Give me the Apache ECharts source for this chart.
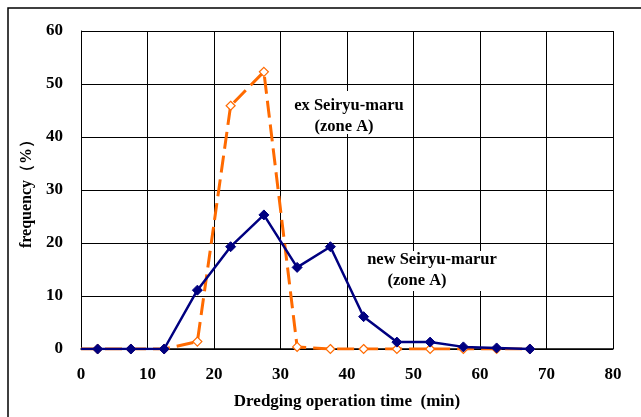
<!DOCTYPE html>
<html><head><meta charset="utf-8">
<script src="https://cdn.jsdelivr.net/npm/echarts@6/dist/echarts.min.js"></script>
<style>html,body{margin:0;padding:0;background:#fff}#c{width:641px;height:417px}</style>
</head><body><div id="c"></div>
<script>
const xTimes = [0, 2.5, 7.5, 12.5, 17.5, 22.5, 27.5, 32.5, 37.5, 42.5, 47.5, 52.5, 57.5, 62.5, 67.5];
const newSeiryu = [0, 0, 0, 0, 11.1, 19.3, 25.3, 15.4, 19.3, 6.1, 1.3, 1.3, 0.4, 0.2, 0];
const exSeiryu = [0, 0, 0, 0, 1.4, 45.9, 52.3, 0.4, 0, 0, 0, 0, 0, 0, 0];
const xTitle = 'Dredging operation time  (min)';
const yTitle = 'frequency（%）';

const font = '"Liberation Serif", "Times New Roman", serif';
function pairs(vals) {
  return xTimes.map((x, i) => i === 0 ? {value: [x, vals[i]], symbol: 'none'} : [x, vals[i]]);
}
const chart = echarts.init(document.getElementById('c'));
chart.setOption({
  animation: false,
  backgroundColor: '#fff',
  grid: {left: 81, right: 28, top: 31, bottom: 68},
  xAxis: {
    type: 'value', min: 0, max: 80, interval: 10,
    axisLine: {lineStyle: {color: '#000', width: 1.5}},
    axisTick: {show: false},
    splitLine: {lineStyle: {color: '#000', width: 1}},
    axisLabel: {color: '#000', fontFamily: font, fontWeight: 'bold', fontSize: 17, margin: 17},
    name: xTitle, nameLocation: 'middle', nameGap: 44,
    nameTextStyle: {color: '#000', fontFamily: font, fontWeight: 'bold', fontSize: 17}
  },
  yAxis: {
    type: 'value', min: 0, max: 60, interval: 10,
    axisLine: {show: true, lineStyle: {color: '#000', width: 1}},
    axisTick: {show: false},
    splitLine: {lineStyle: {color: '#000', width: 1}},
    axisLabel: {color: '#000', fontFamily: font, fontWeight: 'bold', fontSize: 17, margin: 18},
    name: yTitle, nameLocation: 'middle', nameGap: 42,
    nameTextStyle: {color: '#000', fontFamily: font, fontWeight: 'bold', fontSize: 16}
  },
  series: [
    {
      type: 'line', data: pairs(exSeiryu), z: 2,
      lineStyle: {color: '#FF6A00', width: 3, type: [17, 7]},
      symbol: 'diamond', symbolSize: 9,
      itemStyle: {color: '#fff', borderColor: '#FF6A00', borderWidth: 1.2}
    },
    {
      type: 'line', data: pairs(newSeiryu), z: 3,
      lineStyle: {color: '#000080', width: 2.5},
      symbol: 'diamond', symbolSize: 10,
      itemStyle: {color: '#000080', borderColor: '#000080'}
    }
  ],
  graphic: [
    {type: 'rect', shape: {x: 8, y: 8, width: 700, height: 500}, style: {fill: 'none', stroke: '#000', lineWidth: 1.5}, z: 0, silent: true},
    {type: 'rect', shape: {x: 288, y: 91, width: 125, height: 43}, style: {fill: '#fff'}, z: 50},
    {type: 'text', x: 349, y: 106, z: 51, style: {text: 'ex Seiryu-maru', align: 'center', verticalAlign: 'middle', fill: '#000', font: 'bold 16.5px ' + font}},
    {type: 'text', x: 344, y: 127, z: 51, style: {text: '(zone A)', align: 'center', verticalAlign: 'middle', fill: '#000', font: 'bold 16.5px ' + font}},
    {type: 'rect', shape: {x: 362, y: 251, width: 140, height: 40}, style: {fill: '#fff'}, z: 50},
    {type: 'text', x: 432, y: 260, z: 51, style: {text: 'new Seiryu-marur', align: 'center', verticalAlign: 'middle', fill: '#000', font: 'bold 16.5px ' + font}},
    {type: 'text', x: 417, y: 281, z: 51, style: {text: '(zone A)', align: 'center', verticalAlign: 'middle', fill: '#000', font: 'bold 16.5px ' + font}}
  ]
});
</script></body></html>
